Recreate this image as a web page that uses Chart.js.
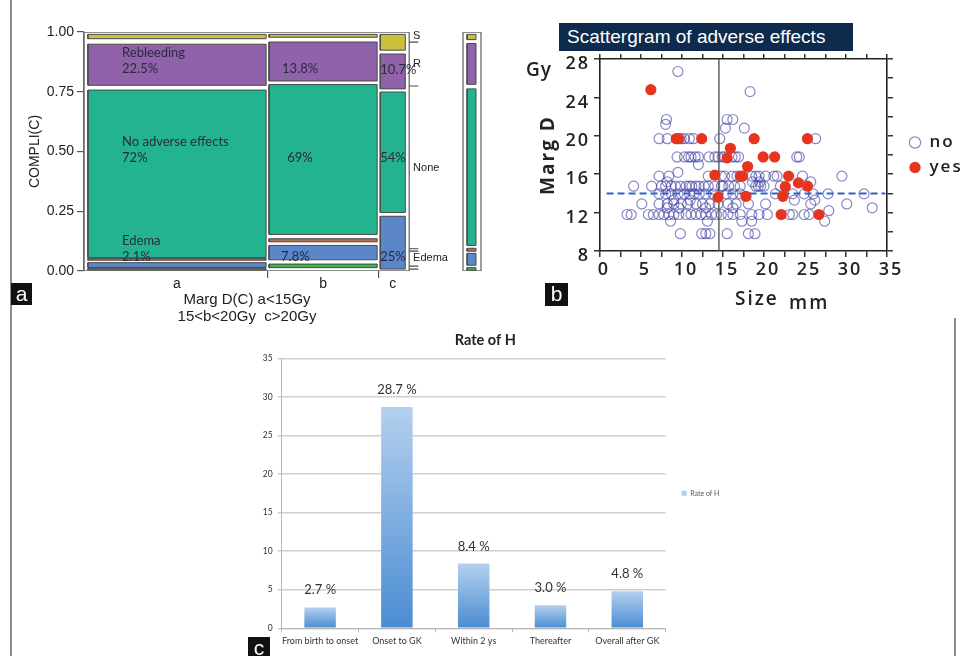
<!DOCTYPE html>
<html>
<head>
<meta charset="utf-8">
<script src="https://cdn.jsdelivr.net/npm/chart.js@4.4.1/dist/chart.umd.min.js"></script>
<style>
  html, body { margin: 0; padding: 0; background: #fff; overflow: hidden; }
  #page { position: relative; width: 964px; height: 656px; overflow: hidden; background: #fff; }
  canvas { position: absolute; }
  .tag { position: absolute; background: #111; color: #fff; font: 21px "Liberation Sans", Arial, sans-serif; text-align: center; line-height: 21px; }
  .txt { position: absolute; white-space: nowrap; color: #222; }
</style>
</head>
<body>
<div id="page">
  <div style="position:absolute;left:10px;top:0;width:2px;height:656px;background:#8c8c8c"></div>
  <div style="position:absolute;left:954px;top:318px;width:2px;height:338px;background:#8c8c8c"></div>

  <canvas id="mosaic" width="530" height="330" style="left:0;top:0"></canvas>
  <canvas id="scatter" width="444" height="320" style="left:520px;top:0"></canvas>
  <canvas id="rate" width="490" height="330" style="left:245px;top:326px"></canvas>

  <div class="txt" style="left:147px;top:290px;width:200px;text-align:center;font:15px/17px 'Liberation Sans',Arial,sans-serif">Marg D(C) a&lt;15Gy<br>15&lt;b&lt;20Gy&nbsp;&nbsp;c&gt;20Gy</div>
  <div class="txt" style="left:559px;top:23px;width:286px;height:28px;padding-left:8px;background:#0e2a4c;color:#fff;font:19px/28px 'Liberation Sans',Arial,sans-serif">Scattergram of adverse effects</div>
  <div class="txt" style="left:526px;top:58px;font:600 19px/22px 'Open Sans',sans-serif;letter-spacing:1px">Gy</div>
  <div class="txt" style="left:735px;top:287px;font:600 19px/22px 'Open Sans',sans-serif;letter-spacing:2px">Size</div>
  <div class="txt" style="left:789px;top:291px;font:600 19px/22px 'Open Sans',sans-serif;letter-spacing:2px">mm</div>

  <div class="tag" style="left:11px;top:283px;width:21px;height:22px">a</div>
  <div class="tag" style="left:545px;top:283px;width:23px;height:23px">b</div>
  <div class="tag" style="left:248px;top:637px;width:22px;height:22px">c</div>
</div>

<script>
// ---------- panel a: mosaic of complications by marginal dose ----------
const colNames = ['a', 'b', 'c'];
const colLeft = [0.012, 0.569, 0.911];
const colRight = [0.560, 0.9015, 0.988];
const segColors = ['#c9c03c', '#9062a9', '#23b48f', '#ad6f4f', '#5b86c8', '#3db34c']; // S, R, None, other, Edema, minor
const segBottomA = [0.972, 0.777, 0.056, 0.045, 0.015, 0.004];
const segTopA = [0.990, 0.949, 0.757, 0.052, 0.035, 0.010];
const segBottomB = [0.978, 0.795, 0.153, 0.122, 0.047, 0.014];
const segTopB = [0.990, 0.958, 0.780, 0.135, 0.107, 0.029];
const segBottomC = [0.924, 0.762, 0.245, null, 0.008, null];
const segTopC = [0.990, 0.908, 0.749, null, 0.229, null];
const margLeft = 1.178, margRight = 1.2054;
const margBottom = [0.968, 0.781, 0.107, 0.083, 0.024, 0.003];
const margTop = [0.990, 0.952, 0.762, 0.095, 0.074, 0.014];
const sideTicks = [0.958, 0.774, 0.093, 0.083, 0.020, 0.008];
const sideText = ['S', 'R', 'None', 'Edema'];
const sideY = [0.982, 0.867, 0.432, 0.053];
const noteText = ['Rebleeding', '22.5%', 'No adverse effects', '72%', 'Edema', '2.1%',
                  '13.8%', '69%', '7.8%', '10.7%', '54%', '25%'];
const noteX = [0.117, 0.117, 0.117, 0.117, 0.117, 0.117, 0.609, 0.625, 0.606, 0.911, 0.911, 0.911];
const noteY = [0.911, 0.845, 0.540, 0.474, 0.128, 0.061, 0.845, 0.474, 0.061, 0.840, 0.474, 0.061];

// ---------- panel b: scattergram ----------
const noRowDose = [26.7, 24.6, 21.7, 21.2, 20.8, 19.7, 17.8, 17.0, 16.2, 15.8, 15.2, 14.75,
                   13.95, 13.3, 12.9, 12.5, 12.2, 11.8, 11.1, 9.8];
const noRowSizes = [
  [9.5],
  [18.3],
  [8.1, 15.5, 16.2],
  [8.0],
  [15.3, 17.6],
  [7.2, 8.2, 9.9, 10.3, 10.9, 11.4, 14.6, 26.3],
  [9.4, 10.3, 10.8, 11.1, 11.6, 12.0, 13.3, 14.0, 14.4, 14.9, 15.2, 16.1, 16.5, 16.9, 24.0, 24.3],
  [12.0],
  [9.5],
  [7.2, 8.4, 13.2, 14.8, 15.2, 16.1, 16.7, 18.5, 19.0, 19.4, 20.2, 21.2, 21.6, 24.7, 29.5],
  [8.2, 18.6, 19.5, 25.7],
  [4.1, 6.3, 7.5, 8.0, 8.7, 9.2, 9.8, 10.5, 10.9, 11.2, 11.7, 12.1, 12.7, 13.2, 14.0, 14.8, 15.0, 15.7, 16.4, 17.1, 19.0, 19.3, 19.6, 20.0, 22.0],
  [7.2, 8.0, 8.7, 9.5, 10.3, 10.9, 11.5, 12.1, 12.9, 13.8, 15.4, 16.2, 17.1, 21.4, 23.5, 24.9, 26.0, 27.8, 32.2],
  [9.0, 11.0, 23.7, 26.2],
  [5.1, 7.2, 8.2, 9.0, 9.9, 10.7, 11.7, 12.5, 13.4, 14.4, 15.6, 16.6, 18.1, 20.2, 25.7, 30.1],
  [8.2, 9.6, 12.9, 16.2, 33.2],
  [27.9],
  [3.3, 3.8, 5.9, 6.5, 7.2, 7.8, 8.4, 9.0, 9.6, 10.5, 11.1, 11.7, 12.3, 12.9, 13.6, 14.2, 14.8, 15.6, 16.2, 17.1, 18.5, 19.4, 20.4, 23.1, 23.5, 24.9, 25.5],
  [8.6, 13.1, 17.3, 18.5, 27.4],
  [9.8, 12.4, 12.9, 13.4, 15.5, 18.1, 18.9]
];
const yesSize = [6.2, 9.3, 9.6, 12.4, 18.8, 25.3, 15.9, 15.5, 19.9, 21.3, 18.0, 14.0,
                 17.1, 17.4, 23.0, 24.2, 25.3, 22.6, 14.4, 17.8, 22.3, 22.1, 26.7];
const yesDose = [24.8, 19.7, 19.7, 19.7, 19.7, 19.7, 18.7, 17.7, 17.8, 17.8, 16.8, 15.9,
                 15.8, 15.8, 15.8, 15.1, 14.75, 14.7, 13.6, 13.7, 13.7, 11.8, 11.8];
const sizeCut = 14.5;          // vertical reference line, mm
const doseCut = 14;            // dashed reference line, Gy
const doseLineFrom = 0.8, doseLineTo = 34.8;

// ---------- panel c: rate of H ----------
const rateLabels = ['From birth to onset', 'Onset to GK', 'Within 2 ys', 'Thereafter', 'Overall after GK'];
const rateValues = [2.7, 28.7, 8.4, 3.0, 4.8];

// ======================================================================

function rectPoints(x0, x1, y0, y1) {
  return [{x: x0, y: y0}, {x: x1, y: y0}, {x: x1, y: y1}, {x: x0, y: y1}, {x: x0, y: y0}];
}

function box(points, color) {
  return {
    data: points, showLine: true, fill: color ? 'shape' : false,
    backgroundColor: color || 'transparent', borderColor: color ? '#4a4a4a' : '#6a6a6a',
    borderWidth: color ? 1 : 1.3, pointRadius: 0, pointHoverRadius: 0, tension: 0
  };
}

const mosaicSets = [];
[[segBottomA, segTopA], [segBottomB, segTopB], [segBottomC, segTopC]].forEach(([lo, hi], c) => {
  lo.forEach((y0, s) => {
    if (y0 === null) return;
    mosaicSets.push(box(rectPoints(colLeft[c], colRight[c], y0, hi[s]), segColors[s]));
  });
});
margBottom.forEach((y0, s) => {
  mosaicSets.push(box(rectPoints(margLeft, margRight, y0, margTop[s]), segColors[s]));
});

// right-hand category ticks, broken with null points
const sideTickPts = [];
sideTicks.forEach(t => {
  sideTickPts.push({x: 1.0, y: t}, {x: 1.028, y: t}, {x: 1.014, y: null});
});
mosaicSets.push({data: sideTickPts, showLine: true, borderColor: '#4a4a4a', borderWidth: 1.2,
                 pointRadius: 0, spanGaps: false});
// outer frames
mosaicSets.push(box(rectPoints(0, 1, 0, 1)));
mosaicSets.push(box(rectPoints(1.1655, 1.2208, 0, 1)));

const colCenter = colLeft.map((l, i) => (l + colRight[i]) / 2);
const colGaps = [(colRight[0] + colLeft[1]) / 2, (colRight[1] + colLeft[2]) / 2];

const mosaicText = {
  id: 'mosaicText',
  afterDatasetsDraw(chart) {
    const {ctx, scales: {x, y}} = chart;
    ctx.save();
    ctx.textBaseline = 'middle';
    ctx.textAlign = 'left';
    ctx.fillStyle = '#2b2b40';
    ctx.font = '13px Lato, sans-serif';
    noteText.forEach((t, i) => ctx.fillText(t, x.getPixelForValue(noteX[i]), y.getPixelForValue(noteY[i])));
    ctx.fillStyle = '#222';
    ctx.font = '11px "Liberation Sans", Arial, sans-serif';
    sideText.forEach((t, i) => ctx.fillText(t, x.getPixelForValue(1.012), y.getPixelForValue(sideY[i])));
    ctx.restore();
  }
};

const axisFontA = {family: 'Liberation Sans', size: 14};

new Chart(document.getElementById('mosaic'), {
  type: 'scatter',
  data: {datasets: mosaicSets},
  plugins: [mosaicText],
  options: {
    responsive: false,
    animation: false,
    layout: {padding: {top: 32, right: 46, bottom: 37, left: 0}},
    plugins: {legend: {display: false}, tooltip: {enabled: false}},
    scales: {
      x: {
        type: 'linear', min: 0, max: 1.23, weight: 1,
        afterBuildTicks: s => { s.ticks = colCenter.map(v => ({value: v})); },
        ticks: {callback: (v, i) => colNames[i], autoSkip: false, maxRotation: 0,
                font: axisFontA, color: '#222', padding: 3},
        grid: {display: false, drawTicks: false},
        border: {display: false},
        afterFit: s => { s.height = 20; }
      },
      xb: {
        type: 'linear', position: 'bottom', min: 0, max: 1.23, weight: 0,
        afterBuildTicks: s => { s.ticks = colGaps.map(v => ({value: v})); },
        ticks: {display: false},
        grid: {drawOnChartArea: false, tickLength: 7, color: '#555', lineWidth: 1.2},
        border: {display: false},
        afterFit: s => { s.height = 2; }
      },
      y: {
        min: 0, max: 1,
        ticks: {stepSize: 0.25, callback: v => v.toFixed(2), font: axisFontA, color: '#222', padding: 3},
        title: {display: true, text: 'COMPLI(C)', font: axisFontA, color: '#222', padding: {top: 27}},
        grid: {drawOnChartArea: false, tickLength: 7, color: '#555', lineWidth: 1.2},
        border: {color: '#6a6a6a', width: 1.3},
        afterFit: s => { s.width = 84; }
      }
    }
  }
});

// ---------- panel b ----------
const noPoints = [];
noRowDose.forEach((d, r) => noRowSizes[r].forEach(s => noPoints.push({x: s, y: d})));
const yesPoints = yesSize.map((s, i) => ({x: s, y: yesDose[i]}));

const spacedText = {
  id: 'spacedText',
  beforeInit(chart) { chart.ctx.letterSpacing = '2px'; },
  beforeDraw(chart) { chart.ctx.letterSpacing = '2px'; }
};

const fontB = {family: 'Open Sans', size: 18, weight: '600'};
const frameB = {color: '#222', width: 1.6};
const tickGridB = {drawOnChartArea: false, tickLength: 6, color: '#333', lineWidth: 1.5};

new Chart(document.getElementById('scatter'), {
  type: 'scatter',
  data: {
    datasets: [
      {label: 'no', data: noPoints, order: 3, pointStyle: 'circle', pointRadius: 5,
       pointBorderWidth: 1.2, borderColor: 'rgba(58,58,160,0.6)', backgroundColor: 'rgba(255,255,255,0)'},
      {label: 'yes', data: yesPoints, order: 1, pointStyle: 'circle', pointRadius: 5.6,
       pointBorderWidth: 0, borderColor: '#e5351f', backgroundColor: '#e5351f'},
      {label: 'cut', data: [{x: sizeCut, y: 8}, {x: sizeCut, y: 28}], order: 2, showLine: true,
       borderColor: '#555', borderWidth: 1.4, pointRadius: 0},
      {label: 'dose', data: [{x: doseLineFrom, y: doseCut}, {x: doseLineTo, y: doseCut}], order: 2,
       showLine: true, borderColor: '#2f5fd0', borderWidth: 2, borderDash: [7, 4], pointRadius: 0}
    ]
  },
  plugins: [spacedText],
  options: {
    responsive: false,
    animation: false,
    layout: {padding: {top: 54, right: 0, bottom: 39, left: 0}},
    plugins: {
      tooltip: {enabled: false},
      legend: {
        position: 'right', align: 'center', fullSize: false, maxWidth: 63,
        labels: {
          usePointStyle: true, boxWidth: 12, boxHeight: 8, padding: 8,
          font: {family: 'Open Sans', size: 17, weight: '600'}, color: '#222',
          filter: item => item.text === 'no' || item.text === 'yes',
          sort: (a, b) => a.datasetIndex - b.datasetIndex
        }
      }
    },
    scales: {
      x: {
        type: 'linear', min: 0, max: 35,
        ticks: {stepSize: 2.5, autoSkip: false, maxRotation: 0, font: fontB, color: '#222', padding: 2,
                labelOffset: 4, callback: v => (v % 5 === 0 ? v : '')},
        grid: tickGridB, border: frameB,
        afterFit: s => { s.height = 30; }
      },
      x2: {
        type: 'linear', position: 'top', min: 0, max: 35,
        ticks: {stepSize: 2.5, display: false},
        grid: {drawOnChartArea: false, tickLength: 5, color: '#333', lineWidth: 1.5}, border: frameB,
        afterFit: s => { s.height = 5; }
      },
      y: {
        min: 8, max: 28,
        ticks: {stepSize: 2, font: fontB, color: '#222', padding: 4, labelOffset: 5,
                callback: v => (v % 4 === 0 ? v : '')},
        title: {display: true, text: 'Marg D', font: {family: 'Open Sans', size: 19, weight: 'bold'},
                color: '#222', padding: {top: 17}},
        grid: tickGridB, border: frameB,
        afterFit: s => { s.width = 80; }
      },
      y2: {
        position: 'right', min: 8, max: 28,
        ticks: {stepSize: 2, display: false},
        grid: tickGridB, border: frameB,
        afterFit: s => { s.width = 14; }
      }
    }
  }
});

// ---------- panel c ----------
function barFill(c) {
  const chart = c.chart;
  if (!chart.chartArea || !c.parsed) return '#7aaee0';
  const y = chart.scales.y;
  const top = y.getPixelForValue(c.parsed.y);
  const base = y.getPixelForValue(0);
  const g = chart.ctx.createLinearGradient(0, top, 0, base);
  g.addColorStop(0, '#b4d0ee');
  g.addColorStop(1, '#4a8cd2');
  return g;
}

const valueLabels = {
  id: 'valueLabels',
  afterDatasetsDraw(chart) {
    const {ctx} = chart;
    const meta = chart.getDatasetMeta(0);
    ctx.save();
    ctx.font = '13px Lato, sans-serif';
    ctx.fillStyle = '#333';
    ctx.textAlign = 'center';
    ctx.textBaseline = 'alphabetic';
    meta.data.forEach((bar, i) => {
      ctx.fillText(rateValues[i].toFixed(1) + ' %', bar.x, bar.y - 13);
    });
    ctx.restore();
  }
};

const fontC = {family: 'Lato', size: 8.5};

new Chart(document.getElementById('rate'), {
  type: 'bar',
  data: {
    labels: rateLabels,
    datasets: [{label: 'Rate of H', data: rateValues, backgroundColor: barFill,
                barPercentage: 0.41, categoryPercentage: 1}]
  },
  plugins: [valueLabels],
  options: {
    responsive: false,
    animation: false,
    layout: {padding: {top: 0, right: 9.3, bottom: 7.7, left: 0}},
    plugins: {
      tooltip: {enabled: false},
      title: {display: true, text: 'Rate of H', color: '#222',
              font: {family: 'Lato', size: 14.5, weight: 'bold'}, padding: {top: 6, bottom: 9}},
      legend: {
        position: 'right', align: 'center', fullSize: false, maxWidth: 60,
        labels: {boxWidth: 5, boxHeight: 5, padding: 16, color: '#555', font: {family: 'Lato', size: 7}}
      }
    },
    scales: {
      x: {
        ticks: {font: {family: 'Lato', size: 9}, color: '#333', padding: 3, maxRotation: 0, autoSkip: false},
        grid: {drawOnChartArea: false, tickLength: 4, color: '#b5b5b5'},
        border: {color: '#b5b5b5'},
        afterFit: s => { s.height = 20; }
      },
      y: {
        min: 0, max: 35,
        ticks: {stepSize: 5, font: fontC, color: '#333', padding: 5},
        grid: {color: '#cfcfcf', lineWidth: 1.5, tickLength: 4},
        border: {color: '#b5b5b5'},
        afterFit: s => { s.width = 36.7; }
      }
    }
  }
});
</script>
</body>
</html>
